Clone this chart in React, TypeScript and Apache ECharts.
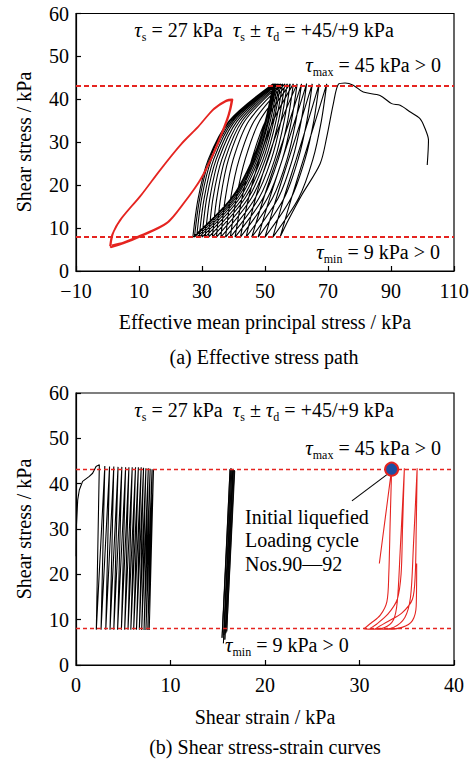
import React, { useEffect, useRef } from "react";
import * as echarts from "echarts";

const FONT = '"Liberation Serif", "Times New Roman", serif';
const RED = "#e52420";

// Panel (a): effective stress path, [p' (kPa), shear stress (kPa)]
const stressPathBlack: number[][] = [
  [101.5, 24.7], [101.9, 30.5], [100.8, 33.2], [99.2, 35.5], [96.0, 37.1], [92.9, 38.6], [90.2, 39.0],
  [86.5, 40.9], [81.2, 41.7], [78.0, 43.3], [75.4, 43.8], [73.3, 43.5],
  [71.7, 39.0], [69.6, 31.2], [67.5, 25.0], [61.5, 17.5], [57.5, 12.0], [54.8, 7.9],
  [58.4, 17], [62.2, 26], [66.0, 35], [69.6, 43.6],
  [67.9, 35], [65.2, 26], [60.7, 17], [52.5, 7.9],
  [56.0, 17], [59.9, 26], [63.7, 35], [67.2, 43.6],
  [65.5, 35], [62.7, 26], [58.3, 17], [50.0, 7.9],
  [53.6, 17], [57.5, 26], [61.4, 35], [65.0, 43.6],
  [63.3, 35], [60.5, 26], [56.1, 17], [47.8, 7.9],
  [51.5, 17], [55.5, 26], [59.5, 35], [63.2, 43.6],
  [61.5, 35], [58.7, 26], [54.2, 17], [45.8, 7.9],
  [49.6, 17], [53.7, 26], [57.8, 35], [61.6, 43.6],
  [59.8, 35], [57.0, 26], [52.4, 17], [44.0, 7.9],
  [47.0, 17], [50.8, 26], [55.2, 35], [60.2, 43.6],
  [58.4, 35], [55.5, 26], [50.8, 17], [42.2, 7.9],
  [44.8, 17], [48.2, 26], [52.6, 35], [59.0, 43.6],
  [57.2, 35], [54.2, 26], [49.4, 17], [40.5, 7.9],
  [42.7, 17], [45.8, 26], [50.2, 35], [58.0, 43.6],
  [56.1, 35], [53.1, 26], [48.1, 17], [39.0, 7.9],
  [40.9, 17], [43.7, 26], [48.3, 35], [57.1, 43.6],
  [55.1, 35], [52.0, 26], [46.9, 17], [37.5, 7.9],
  [39.1, 17], [41.8, 26], [46.6, 35], [56.3, 43.6],
  [54.3, 35], [51.0, 26], [45.7, 17], [36.0, 7.9],
  [37.4, 17], [39.9, 26], [44.9, 35], [55.6, 43.6],
  [53.5, 35], [50.1, 26], [44.7, 17], [34.6, 7.9],
  [35.9, 17], [38.4, 26], [43.6, 35], [55.0, 43.6],
  [52.8, 35], [49.4, 26], [43.7, 17], [33.3, 7.9],
  [34.7, 17], [37.3, 26], [42.8, 35], [54.5, 43.6],
  [52.3, 35], [48.7, 26], [42.9, 17], [32.1, 7.9],
  [33.5, 17], [36.3, 26], [42.0, 35], [54.0, 43.6],
  [51.7, 35], [48.0, 26], [42.0, 17], [31.0, 7.9],
  [32.5, 17], [35.3, 26], [41.2, 35], [53.6, 43.6],
  [51.2, 35], [47.5, 26], [41.3, 17], [30.0, 7.9],
  [31.5, 17], [34.5, 26], [40.5, 35], [53.3, 43.6],
  [50.9, 35], [47.0, 26], [40.7, 17], [29.1, 7.9],
  [30.7, 17], [33.7, 26], [39.9, 35], [53.0, 43.6],
  [50.5, 35], [46.6, 26], [40.2, 17], [28.3, 7.9],
  [29.9, 17], [33.0, 26], [39.4, 35], [52.8, 43.6],
  [50.3, 35], [46.2, 26], [39.7, 17], [27.6, 7.9],
  [29.3, 17], [32.4, 26], [38.9, 35], [52.6, 43.6],
  [50.1, 35], [46.0, 26], [39.3, 17], [27.1, 7.9],
  [28.8, 17], [32.0, 26], [38.6, 35], [52.5, 43.6],
];

const stressPathRed: number[][] = [
  [0.8, 5.8], [1.5, 8.5], [4.0, 11.9], [10.3, 17.3], [16.7, 23.5], [23.0, 29.2], [28.5, 33.4],
  [33.6, 37.6], [37.5, 39.5], [39.4, 39.8],
  [38.8, 37.5], [37.8, 35.1], [33.6, 27.4], [29.4, 21.2], [24.1, 15.7], [18.8, 11.1], [10.3, 8.0],
  [5.0, 6.4], [1.0, 5.5],
  [1.2, 7.0], [2.0, 9.2], [4.6, 12.4], [10.8, 17.8], [17.1, 23.9], [23.4, 29.6], [28.9, 33.7],
  [33.9, 37.9], [37.8, 39.8], [39.7, 40.0],
  [39.1, 37.8], [38.1, 35.3], [33.9, 27.7], [29.7, 21.5], [24.4, 16.0], [19.1, 11.4], [10.6, 8.3],
  [5.2, 6.7], [1.4, 6.0],
];

// Panel (b): shear stress-strain, [strain, shear stress]
const strainEarly: number[][] = [
  [0.02, 24.0], [0.05, 31.0], [0.18, 36.4], [0.35, 38.6], [0.7, 40.5], [1.41, 41.6], [1.76, 42.3],
  [2.12, 43.8], [2.47, 44.2],
  [2.15, 7.8], [3.05, 43.9], [2.65, 7.8], [3.55, 43.8], [3.15, 7.8], [4.0, 43.8], [3.6, 7.8],
  [4.45, 43.7], [4.0, 7.8], [4.85, 43.7], [4.4, 7.8], [5.25, 43.6], [4.8, 7.8], [5.6, 43.6],
  [5.15, 7.8], [5.95, 43.6], [5.5, 7.8], [6.3, 43.6], [5.8, 7.8], [6.6, 43.6], [6.1, 7.8],
  [6.9, 43.6], [6.4, 7.8], [7.15, 43.5], [6.7, 7.8], [7.4, 43.4], [6.95, 7.7], [7.65, 43.4],
  [7.2, 7.7], [7.85, 43.3], [7.4, 7.7], [8.05, 43.2], [7.6, 7.7], [8.2, 43.2], [7.75, 7.7],
];

const strainMiddle: number[][] = [
  [15.5, 7.2], [16.3, 43.2], [15.45, 6.0], [16.4, 43.4], [15.6, 4.8], [16.5, 43.2],
  [15.65, 6.6], [16.6, 43.0], [15.75, 5.6], [16.65, 43.2], [15.85, 7.0], [16.75, 43.0],
  [15.95, 7.4], [16.8, 42.8],
];

const strainLiquefied: number[][] = [
  [32.1, 22.4], [32.7, 32], [33.2, 40], [33.4, 43.2],
  [33.25, 32], [33.1, 20], [32.9, 14], [32.2, 11], [31.2, 9.2], [30.5, 8.0],
  [31.3, 7.9], [32.6, 8.2], [33.6, 10], [34.0, 14], [34.3, 25], [34.75, 43.4],
  [34.55, 30], [34.4, 20], [34.0, 14.5], [33.0, 11.2], [31.8, 9.0], [31.1, 8.0],
  [32.2, 7.9], [33.6, 8.3], [34.8, 10.5], [35.4, 15], [35.7, 26], [36.1, 43.4],
  [36.0, 30], [35.9, 20], [35.6, 14.5], [34.5, 11.5], [33.0, 9.6], [31.7, 8.0],
  [33.0, 7.9], [34.5, 8.3], [35.6, 9.8], [36.0, 13], [36.05, 22.4],
];

const liquefiedPoint: number[][] = [[33.4, 43.2]];
const pointerLine: number[][] = [[32.9, 42.0], [29.2, 36.2]];

const tauLevels = [43.2, 8.0];

const xTicksA = { min: -10, max: 110, interval: 20 };
const xTicksB = { min: 0, max: 40, interval: 10 };
const yTicks = { min: 0, max: 60, interval: 10 };

const FS = 20;

const richStyles = {
  t: { fontFamily: FONT, fontSize: 21, fontStyle: "italic", lineHeight: 26, fill: "#000" },
  n: { fontFamily: FONT, fontSize: FS, lineHeight: 26, fill: "#000" },
  s: { fontFamily: FONT, fontSize: 12, lineHeight: 13, verticalAlign: "bottom", fill: "#000" },
};

const headerText = "{t|τ}{s|s}{n| = 27 kPa  }{t|τ}{s|s}{n| ± }{t|τ}{s|d}{n| = +45/+9 kPa}";
const maxText = "{t|τ}{s|max}{n| = 45 kPa > 0}";
const minText = "{t|τ}{s|min}{n| = 9 kPa > 0}";

function richText(x: number, y: number, text: string, align: string) {
  return {
    type: "text",
    x,
    y,
    silent: true,
    style: { text, rich: richStyles, align, verticalAlign: "middle", fill: "#000", font: `${FS}px ${FONT}` },
  };
}

function plainText(x: number, y: number, text: string, align: string, lineHeight = 22, rotation = 0) {
  return {
    type: "text",
    x,
    y,
    rotation,
    silent: true,
    style: { text, align, verticalAlign: "middle", fill: "#000", fontFamily: FONT, fontSize: FS, lineHeight },
  };
}

const fmtTick = (v: number) => (v < 0 ? "\u2212" + Math.abs(v) : String(v));

export default function App() {
  const ref = useRef<HTMLDivElement>(null);
  useEffect(() => {
    if (!ref.current) return;
    const chart = echarts.init(ref.current, null, { renderer: "svg" });
    const axisCommon = {
      type: "value",
      axisLine: { onZero: false, lineStyle: { color: "#000", width: 1.2 } },
      axisTick: { inside: true, length: 5, lineStyle: { color: "#000", width: 1.2 } },
      axisLabel: { color: "#000", fontSize: FS, fontFamily: FONT, formatter: fmtTick },
      splitLine: { show: false },
    };
    const markLine = (w: number, dash: number[]) => ({
      silent: true,
      symbol: "none",
      label: { show: false },
      lineStyle: { color: RED, type: dash, width: w },
      data: tauLevels.map((v) => ({ yAxis: v })),
    });
    chart.setOption({
      animation: false,
      grid: [
        { left: 76, top: 13.5, width: 378, height: 257.5, show: true, borderColor: "#000", borderWidth: 1.2 },
        { left: 76, top: 393, width: 378, height: 272, show: true, borderColor: "#000", borderWidth: 1.2 },
      ],
      xAxis: [
        { ...axisCommon, gridIndex: 0, ...xTicksA, axisLabel: { ...axisCommon.axisLabel, margin: 10 } },
        { ...axisCommon, gridIndex: 1, ...xTicksB, axisLabel: { ...axisCommon.axisLabel, margin: 10 } },
      ],
      yAxis: [
        { ...axisCommon, gridIndex: 0, ...yTicks, axisLabel: { ...axisCommon.axisLabel, margin: 7 } },
        { ...axisCommon, gridIndex: 1, ...yTicks, axisLabel: { ...axisCommon.axisLabel, margin: 7 } },
      ],
      series: [
        {
          type: "line", xAxisIndex: 0, yAxisIndex: 0, data: stressPathBlack, showSymbol: false, smooth: 0.3,
          lineStyle: { color: "#000", width: 1.1 }, markLine: markLine(1.8, [5, 3]), z: 2,
        },
        {
          type: "line", xAxisIndex: 0, yAxisIndex: 0, data: stressPathRed, showSymbol: false, smooth: 0.3,
          lineStyle: { color: RED, width: 1.7 }, z: 3,
        },
        {
          type: "line", xAxisIndex: 1, yAxisIndex: 1, data: strainEarly, showSymbol: false,
          lineStyle: { color: "#000", width: 1.1 }, markLine: markLine(1.3, [4, 3]), z: 2,
        },
        {
          type: "line", xAxisIndex: 1, yAxisIndex: 1, data: strainMiddle, showSymbol: false,
          lineStyle: { color: "#000", width: 0.9 }, z: 2,
        },
        {
          type: "line", xAxisIndex: 1, yAxisIndex: 1, data: strainLiquefied, showSymbol: false, smooth: 0.3,
          lineStyle: { color: RED, width: 1.1 }, z: 3,
        },
        {
          type: "line", xAxisIndex: 1, yAxisIndex: 1, data: pointerLine, showSymbol: false,
          lineStyle: { color: "#000", width: 1.1 }, z: 4,
        },
        {
          type: "scatter", xAxisIndex: 1, yAxisIndex: 1, data: liquefiedPoint, symbolSize: 13,
          itemStyle: { color: "#1e4fa3", borderColor: RED, borderWidth: 2, opacity: 1 }, z: 5,
        },
      ],
      graphic: [
        richText(264, 30, headerText, "center"),
        richText(441, 65, maxText, "right"),
        richText(440, 252, minText, "right"),
        richText(264, 410, headerText, "center"),
        richText(441, 448, maxText, "right"),
        richText(225, 645, minText, "left"),
        plainText(245, 540, "Initial liquefied\nLoading cycle\nNos.90—92", "left", 23.5),
        plainText(265, 322, "Effective mean principal stress / kPa", "center"),
        plainText(265, 717, "Shear strain / kPa", "center"),
        plainText(24, 142, "Shear stress / kPa", "center", 22, Math.PI / 2),
        plainText(24, 529, "Shear stress / kPa", "center", 22, Math.PI / 2),
        plainText(264, 357, "(a) Effective stress path", "center"),
        plainText(265, 747, "(b) Shear stress-strain curves", "center"),
      ],
    });
    return () => chart.dispose();
  }, []);
  return (
    <div
      ref={ref}
      style={{ position: "absolute", left: 0, top: 0, width: 472, height: 759, background: "#fff" }}
    />
  );
}
